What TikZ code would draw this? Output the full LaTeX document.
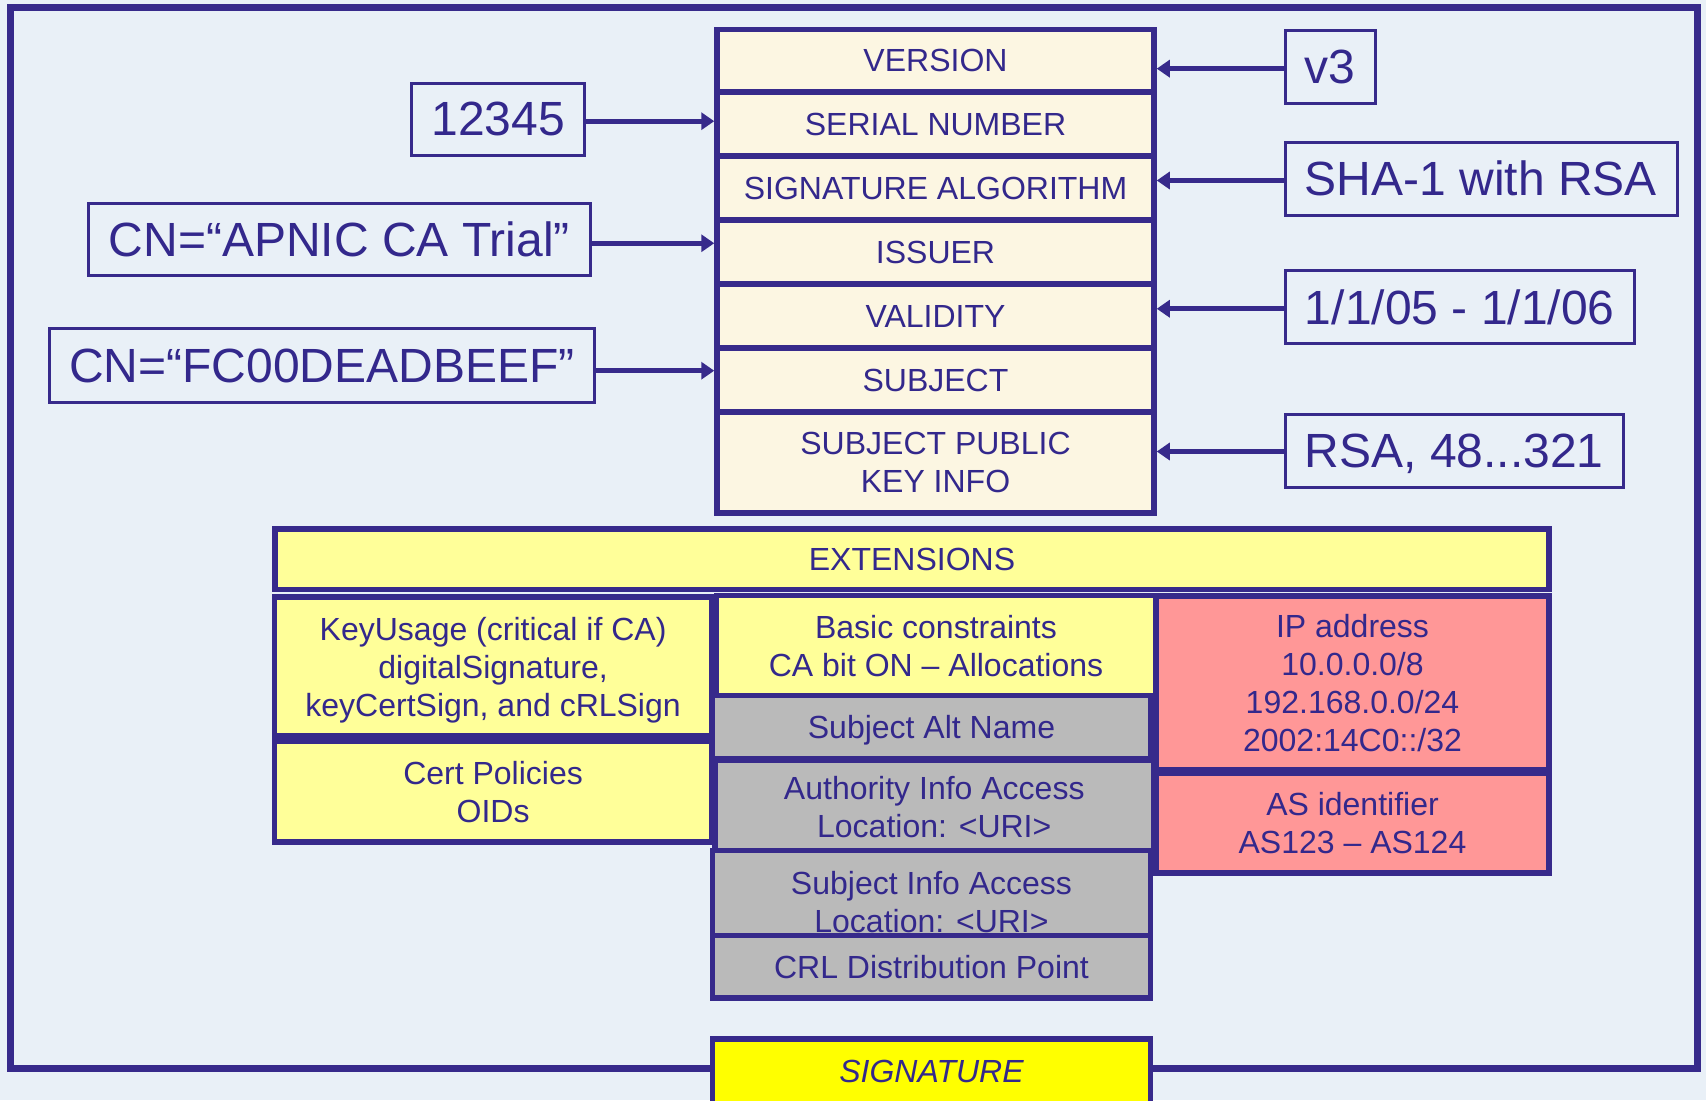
\documentclass[tikz,border=0pt]{standalone}
\usepackage{fontspec}
\setmainfont{Liberation Sans}
\usetikzlibrary{arrows.meta,calc}
\definecolor{navy}{HTML}{372A8B}
\definecolor{ink}{HTML}{33288C}
\definecolor{bg}{HTML}{E9F0F7}
\definecolor{cream}{HTML}{FCF6E2}
\definecolor{ltyel}{HTML}{FFFF99}
\definecolor{gry}{HTML}{BABABA}
\definecolor{pnk}{HTML}{FF9797}
\definecolor{sigyel}{HTML}{FFFF00}
\begin{document}
\begin{tikzpicture}[x=0.75pt,y=-0.75pt,
  wh/.style 2 args={minimum width=#1*0.75pt, minimum height=#2*0.75pt},
  fld/.style={rectangle, draw=navy, line width=4.125pt, inner sep=0pt, text=ink,
    align=center, text depth=-3pt, font=\fontsize{24}{28.5}\selectfont},
  txt/.style={inner sep=0pt, text=ink, align=center, text depth=0pt,
    font=\fontsize{24}{28.5}\selectfont},
  lbl/.style={rectangle, draw=navy, line width=2.25pt, inner sep=0pt, text=ink,
    text depth=0pt, font=\fontsize{36}{43}\selectfont},
  arr/.style={draw=navy, line width=3.75pt, -{Triangle[length=9.75pt,width=12.75pt]}}]
\useasboundingbox (0,0) rectangle (1706,1100);
\clip (0,0) rectangle (1706,1100);
\fill[bg] (0,0) rectangle (1706,1100);
% outer frame
\draw[navy, line width=5.25pt] (10,7.5) rectangle (1697,1068.5);
% certificate fields
\node[fld, fill=cream, wh={437}{62.5}] (version) at (935.5,60.75) {VERSION};
\node[fld, fill=cream, wh={437}{64}] (serial) at (935.5,124) {SERIAL NUMBER};
\node[fld, fill=cream, wh={437}{64}] (sigalg) at (935.5,188) {SIGNATURE ALGORITHM};
\node[fld, fill=cream, wh={437}{64}] (issuer) at (935.5,252) {ISSUER};
\node[fld, fill=cream, wh={437}{64}] (validity) at (935.5,316) {VALIDITY};
\node[fld, fill=cream, wh={437}{64}] (subject) at (935.5,380) {SUBJECT};
\node[fld, fill=cream, wh={437}{101}] (spki) at (935.5,462.5) {SUBJECT PUBLIC\\KEY INFO};
% value boxes
\node[lbl, wh={172.7}{72.3}] (serialval) at (498.3,119.2) {12345};
\node[lbl, wh={501.8}{72.5}] (issuerval) at (339.4,239.25) {CN=“APNIC CA Trial”};
\node[lbl, wh={545.1}{73.6}] (subjectval) at (321.75,365.7) {CN=“FC00DEADBEEF”};
\node[lbl, wh={90}{72.7}] (versionval) at (1330,66.65) {v3};
\node[lbl, wh={392}{73}] (sigalgval) at (1481,178.5) {SHA-1 with RSA};
\node[lbl, wh={349.5}{72.5}] (validityval) at (1459.75,306.75) {1/1/05 - 1/1/06};
\node[lbl, wh={338.5}{73}] (spkival) at (1454.25,450.5) {RSA, 48...321};
% arrows
\draw[arr] ($(serialval.east)+(0,2)$) -- ($(serialval.east -| serial.west)+(0,2)$);
\draw[arr] ($(issuerval.east)+(0,4)$) -- ($(issuerval.east -| issuer.west)+(0,4)$);
\draw[arr] ($(subjectval.east)+(0,5)$) -- ($(subjectval.east -| subject.west)+(0,5)$);
\draw[arr] ($(versionval.west)+(0,2)$) -- ($(versionval.west -| version.east)+(0,2)$);
\draw[arr] ($(sigalgval.west)+(0,2)$) -- ($(sigalgval.west -| sigalg.east)+(0,2)$);
\draw[arr] ($(validityval.west)+(0,2)$) -- ($(validityval.west -| validity.east)+(0,2)$);
\draw[arr] ($(spkival.west)+(0,1)$) -- ($(spkival.west -| spki.east)+(0,1)$);
% extensions
\node[fld, fill=ltyel, wh={1274}{60.5}] (ext) at (912,559.25) {EXTENSIONS};
\node[fld, fill=ltyel, wh={437.2}{139}] (keyusage) at (493.1,666.5)
  {KeyUsage (critical if CA)\\digitalSignature,\\keyCertSign, and cRLSign};
\node[fld, fill=ltyel, wh={437.2}{101}] (certpol) at (493.1,791.5) {Cert Policies\\OIDs};
\node[fld, fill=ltyel, wh={439}{100}] (basic) at (936,645.5)
  {Basic constraints\\CA bit ON – Allocations};
\node[fld, fill=gry, wh={438}{63}] (san) at (931.5,727) {Subject Alt Name};
\node[fld, fill=gry, wh={438.5}{92}] (aia) at (934.25,806.5)
  {Authority Info Access\\Location: <URI>};
\node[fld, fill=gry, wh={438}{85}] (sia) at (931.5,893) {};
\node[txt] (siatext) at (931.5,902) {Subject Info Access\\Location: <URI>};
\node[fld, fill=gry, wh={438}{62.5}] (crl) at (931.5,966.75) {CRL Distribution Point};
\node[fld, fill=pnk, wh={393}{174}] (ipaddr) at (1352.5,683)
  {IP address\\10.0.0.0/8\\192.168.0.0/24\\2002:14C0::/32};
\node[fld, fill=pnk, wh={393}{100}] (asid) at (1352.5,823) {AS identifier\\AS123 – AS124};
% signature
\node[fld, fill=sigyel, wh={438}{65}, text depth=0pt, font=\fontsize{24}{28}\selectfont\itshape] (sig) at (931.5,1071.5) {SIGNATURE};
\end{tikzpicture}
\end{document}
